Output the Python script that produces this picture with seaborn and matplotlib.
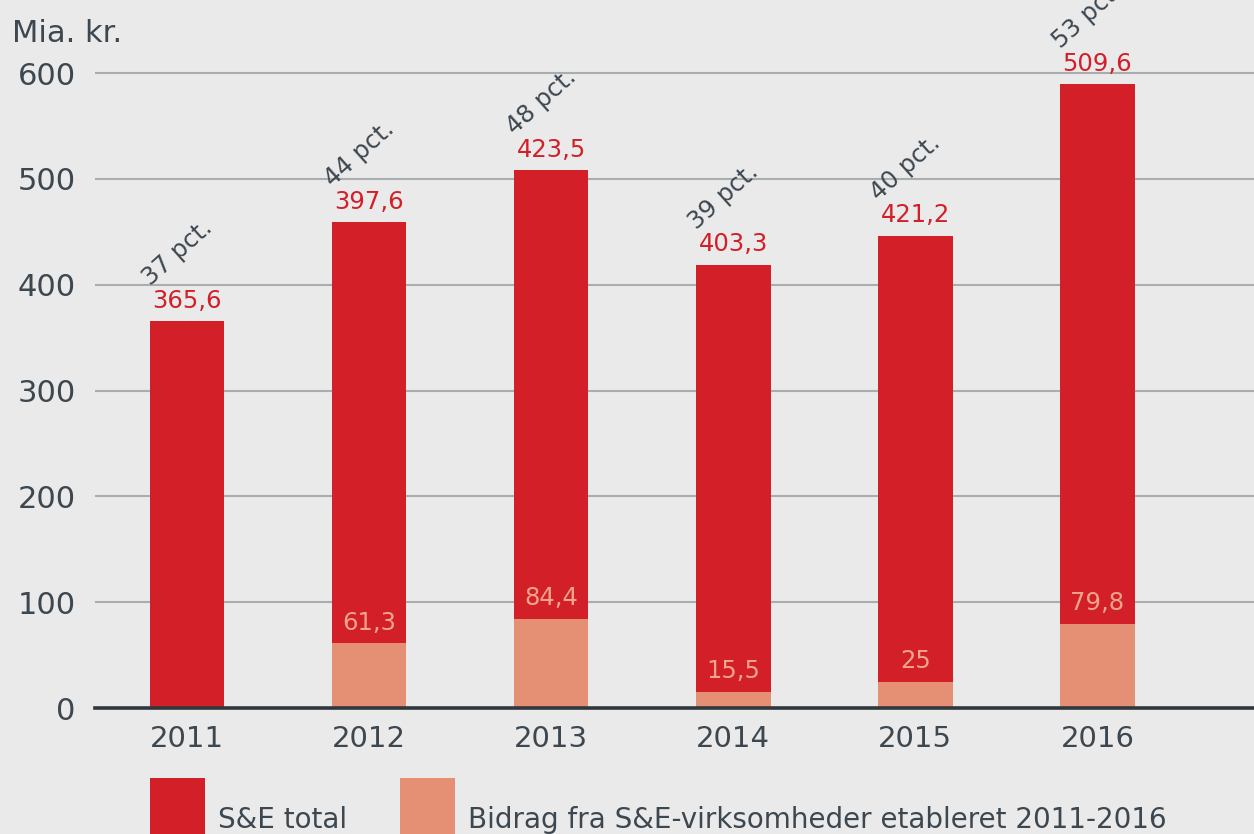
import matplotlib
matplotlib.use("Agg")
import matplotlib.pyplot as plt
from matplotlib.patches import Rectangle
import seaborn as sns
import pandas as pd
import numpy as np

# ---- data ----
years = ["2011", "2012", "2013", "2014", "2015", "2016"]
se_total = [365.6, 397.6, 423.5, 403.3, 421.2, 509.6]
bidrag = [0.0, 61.3, 84.4, 15.5, 25.0, 79.8]
pct = [37, 44, 48, 39, 40, 53]
y_ticks = [0, 100, 200, 300, 400, 500, 600]
legend_labels = ["S&E total", "Bidrag fra S&E-virksomheder etableret 2011-2016"]

RED = "#D21F28"
SALMON = "#E58F74"
TEXT = "#3D4750"
BG = "#EAEAEA"

sns.set_style("white")
plt.rcParams["font.family"] = ["DejaVu Sans"]

df = pd.DataFrame({"year": years, "total": se_total, "bidrag": bidrag})
df["stack"] = df["total"] + df["bidrag"]

fig = plt.figure(figsize=(12.54, 8.34), dpi=100)
fig.patch.set_facecolor(BG)
ax = fig.add_axes([95 / 1254, (834 - 708) / 834, 1 - 95 / 1254, 708 / 834])
ax.set_facecolor(BG)

sns.barplot(data=df, x="year", y="stack", order=years, color=RED, width=0.41,
            saturation=1, ax=ax, zorder=3, edgecolor="none", linewidth=0)
sns.barplot(data=df, x="year", y="bidrag", order=years, color=SALMON, width=0.41,
            saturation=1, ax=ax, zorder=3, edgecolor="none", linewidth=0)

ax.set_xlim(-0.505, 5.86)
ax.set_ylim(0, 669)
ax.set_yticks(y_ticks)
ax.set_yticklabels([str(v) for v in y_ticks])
ax.set_xlabel("")
ax.set_ylabel("")
ax.grid(axis="y", color="#A8AEAE", linewidth=1.5, zorder=0)
ax.grid(axis="x", visible=False)
for s in ["top", "right", "left"]:
    ax.spines[s].set_visible(False)
ax.spines["bottom"].set_color("#30373D")
ax.spines["bottom"].set_linewidth(2.6)
ax.spines["bottom"].set_zorder(4)
ax.tick_params(axis="both", length=0, labelcolor=TEXT)
ax.tick_params(axis="y", pad=14, labelsize=22)
ax.tick_params(axis="x", pad=12, labelsize=21)

def fmt(v):
    s = f"{v:.1f}".replace(".", ",")
    if s.endswith(",0"):
        s = s[:-2]
    return s

for i, (t, b, p) in enumerate(zip(se_total, bidrag, pct)):
    top = t + b
    ax.annotate(fmt(t), (i, top), xytext=(0, 6), textcoords="offset points",
                ha="center", va="bottom", fontsize=17.5, color=RED, zorder=5)
    ax.annotate(f"{p} pct.", (i - 0.2, top), xytext=(0, 25), textcoords="offset points",
                ha="left", va="baseline", rotation=42, rotation_mode="anchor",
                fontsize=17.5, color=TEXT, zorder=5)
    if b > 0:
        ax.annotate(fmt(b), (i, b), xytext=(0, 6), textcoords="offset points",
                    ha="center", va="bottom", fontsize=17.5, color="#F1A589", zorder=5)

fig.text(12 / 1254, 1 - 42 / 834, "Mia. kr.", fontsize=22, color=TEXT,
         ha="left", va="baseline")

# legend
for x0, col, lab in [(150, RED, legend_labels[0]), (400, SALMON, legend_labels[1])]:
    fig.patches.append(Rectangle((x0 / 1254, -0.02), 55 / 1254, (834 - 778) / 834 + 0.02,
                                 transform=fig.transFigure, facecolor=col, edgecolor="none"))
    fig.text((x0 + 68) / 1254, 1 - 828 / 834, lab, fontsize=20, color=TEXT,
             ha="left", va="baseline")

fig.savefig("out.png", dpi=100, facecolor=BG)
